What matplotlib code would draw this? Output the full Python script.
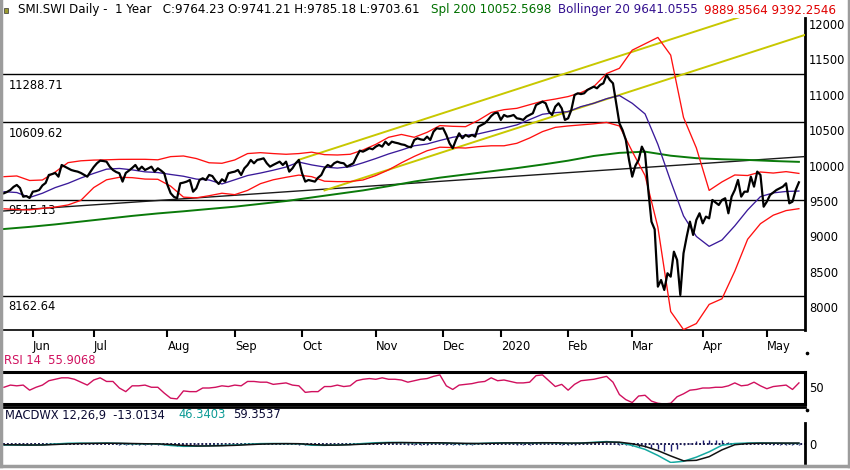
import numpy as np
import pandas as pd
import matplotlib
matplotlib.use("Agg")
import matplotlib.pyplot as plt
from matplotlib.lines import Line2D
from matplotlib.patches import Rectangle

# trading calendar (SIX holidays inside the window)
START, END = "2019-05-20", "2020-05-18"
HOLIDAYS = ["2019-05-30", "2019-06-10", "2019-08-01", "2019-12-24", "2019-12-25",
            "2019-12-26", "2019-12-31", "2020-01-01", "2020-01-02", "2020-04-10",
            "2020-04-13", "2020-05-01"]
MONTH_LABELS = ["Jun", "Jul", "Aug", "Sep", "Oct", "Nov", "Dec", "2020", "Feb", "Mar", "Apr", "May"]
PRICE_TICKS = [8000, 8500, 9000, 9500, 10000, 10500, 11000, 11500, 12000]

# daily closes
CLOSE = [
    9610, 9630, 9656, 9700, 9727, 9684, 9561, 9570, 9543, 9632,
    9640, 9656, 9720, 9755, 9868, 9880, 9896, 9844, 10009, 9985,
    9960, 9938, 9925, 9915, 9896, 9870, 9844, 9915, 9980, 10033,
    10070, 10065, 10056, 9985, 9938, 9910, 9892, 9774, 9896, 9930,
    9967, 10009, 9938, 9985, 9938, 9960, 9985, 9915, 9962, 9930,
    9892, 9727, 9610, 9560, 9539, 9750, 9760, 9774, 9797, 9632,
    9680, 9797, 9821, 9797, 9868, 9853, 9788, 9741, 9807, 9774,
    9892, 9905, 9915, 9938, 9868, 9962, 10009, 10080, 10033, 10080,
    10090, 10103, 10033, 9985, 10010, 10033, 10056, 10009, 10056, 9915,
    9962, 10033, 10080, 9892, 9774, 9797, 9785, 9774, 9830, 9868,
    9962, 10009, 9985, 10033, 10056, 10040, 10033, 9985, 10009, 10033,
    10127, 10211, 10197, 10220, 10245, 10231, 10268, 10292, 10268, 10338,
    10292, 10338, 10325, 10315, 10300, 10292, 10268, 10259, 10362, 10386,
    10370, 10362, 10409, 10362, 10479, 10527, 10520, 10527, 10433, 10315,
    10245, 10362, 10456, 10386, 10433, 10409, 10433, 10409, 10550, 10574,
    10598, 10645, 10700, 10739, 10748, 10645, 10715, 10692, 10700, 10715,
    10668, 10660, 10645, 10692, 10715, 10739, 10856, 10880, 10903, 10880,
    10762, 10715, 10833, 10880, 10809, 10645, 10668, 10786, 10997, 11021,
    11010, 11021, 11068, 11092, 11115, 11092, 11139, 11162, 11280, 11209,
    11162, 10880, 10598, 10500, 10362, 10080, 9844, 10000, 10080, 10268,
    10174, 9656, 9209, 9100, 8291, 8385, 8244, 8480, 8432, 8785,
    8668, 8173, 8762, 8997, 9209, 9021, 9233, 9327, 9185, 9280,
    9256, 9515, 9480, 9444, 9515, 9539, 9327, 9562, 9656, 9797,
    9562, 9632, 9632, 9844, 9703, 9915, 9868, 9420, 9491, 9585,
    9620, 9656, 9680, 9703, 9750, 9468, 9491, 9656, 9764,
]

# Bollinger 20, one reading every 4 sessions
BAND_STEP = 4
BB_MID = [
    9632, 9620, 9550, 9610, 9690, 9750, 9825, 9890, 9950, 9960, 9940, 9912, 9902,
    9875, 9850, 9810, 9797, 9741, 9800, 9860, 9895, 9935, 9980, 10050, 10010, 9980,
    9965, 9985, 10040, 10100, 10165, 10220, 10280, 10305, 10355, 10400, 10428, 10448,
    10490, 10530, 10575, 10650, 10725, 10748, 10762, 10833, 10880, 10945, 10990, 10880,
    10730, 10300, 9780, 9290, 9000, 8860, 8950, 9150, 9374, 9562, 9615, 9635, 9641,
]
BB_UPPER = [
    9844, 9854, 9790, 9797, 9910, 10042, 10068, 10078, 10082, 10088, 10089, 10089, 10082,
    10127, 10136, 10100, 10040, 10033, 10080, 10170, 10183, 10170, 10160, 10170, 10190,
    10155, 10150, 10160, 10221, 10300, 10400, 10440, 10400, 10470, 10565, 10555, 10550,
    10640, 10750, 10790, 10809, 10860, 10910, 10940, 10975, 11030, 11115, 11300, 11374,
    11630, 11720, 11810, 11560, 10680, 10250, 9650, 9770, 9868, 9860, 9910, 9895, 9915, 9890,
]
BB_LOWER = [
    9390, 9380, 9375, 9397, 9415, 9445, 9510, 9690, 9800, 9835, 9830, 9810, 9807,
    9710, 9555, 9545, 9575, 9610, 9590, 9650, 9745, 9800, 9835, 9866, 9844, 9780,
    9774, 9775, 9797, 9860, 9940, 10040, 10130, 10210, 10260, 10255, 10248, 10268,
    10280, 10280, 10315, 10390, 10480, 10540, 10560, 10575, 10590, 10610, 10560, 10200,
    9860, 9130, 7940, 7685, 7770, 8040, 8120, 8510, 8960, 9180, 9300, 9365, 9392,
]

# Spl 200, one reading every 8 sessions
SPL_STEP = 8
SPL_200 = [
    9105, 9135, 9170, 9210, 9250, 9290, 9325, 9355, 9388, 9420, 9460, 9500, 9550,
    9600, 9650, 9710, 9775, 9830, 9875, 9920, 9965, 10015, 10070, 10136, 10180,
    10197, 10140, 10105, 10090, 10080, 10065, 10053,
]

# RSI 14 and MACD histogram, every 2 sessions
OSC_STEP = 2
RSI_14 = [
    49, 52, 51, 52, 45, 49, 52, 58, 60, 62, 62, 60, 56, 52, 59, 62, 57, 57, 48, 43,
    51, 51, 52, 49, 49, 41, 34, 33, 44, 43, 43, 48, 48, 49, 51, 50, 52, 51, 57, 57,
    56, 56, 53, 54, 55, 52, 51, 42, 43, 43, 50, 50, 52, 50, 51, 58, 60, 61, 60, 62,
    60, 60, 59, 56, 58, 60, 61, 64, 66, 51, 46, 52, 53, 54, 56, 57, 62, 58, 59, 57,
    55, 55, 56, 65, 66, 58, 50, 53, 45, 53, 58, 59, 60, 62, 64, 56, 39, 32, 28, 37,
    38, 30, 27, 26, 27, 36, 40, 45, 46, 48, 48, 49, 49, 51, 55, 51, 52, 56, 51, 47,
    50, 51, 52, 46, 55,
]
MACD_HIST = [
    -10, -10, -10, -10, -10, -2, 5, 12, 20, 25, 25, 20, 15, 8, 2, 5, 8, 0, -5, -12,
    -10, -8, -5, -5, -5, -20, -40, -45, -35, -25, -10, 0, 10, 10, 10, 12, 15, 18, 20, 22,
    20, 15, 10, 5, 0, 0, -2, -20, -30, -20, -10, 0, 10, 10, 10, 20, 25, 28, 25, 20,
    15, 8, 2, -3, -5, -5, -5, 0, 2, -8, -13, -12, -10, -5, 0, 5, 10, 10, 8, 3,
    -1, -2, -3, 3, 7, 3, 0, -8, -13, -5, 2, 8, 15, 18, 20, 5, -15, -40, -70, -95,
    -120, -160, -200, -250, -270, -180, -30, 60, 130, 180, 200, 195, 190, 110, 50, 30,
    20, 15, 10, 5, -3, -8, -10, -12, -13,
]

# MACD 12,26,9 lines, every 4 sessions
MACD_STEP = 4
MACD = [
    -20, -25, -30, -15, 20, 50, 55, 50, 60, 45, 30, 25, 20, -40, -75, -70, -50, -40,
    -20, 10, 35, 40, 35, 30, -30, -35, -15, 0, 40, 70, 85, 80, 70, 65, 70, 45, 35, 40,
    60, 70, 65, 60, 75, 70, 45, 60, 90, 120, 80, -40, -200, -450, -740, -690, -520,
    -300, -30, 40, 60, 65, 55, 48, 46,
]
MACD_SIGNAL = [
    -10, -15, -20, -20, 0, 25, 40, 48, 52, 50, 40, 30, 25, 0, -40, -60, -60, -50,
    -35, -10, 15, 30, 35, 32, 0, -25, -25, -10, 15, 45, 70, 78, 75, 70, 68, 58, 45, 40,
    50, 62, 66, 63, 68, 70, 58, 58, 75, 100, 95, 30, -80, -250, -470, -670, -650,
    -500, -220, -10, 40, 55, 58, 58, 59,
]

# drawn objects
LEVELS = [11288.71, 10609.62, 9515.13, 8162.64]
BASE_TREND = [("2019-05-20", 9360), ("2020-05-18", 10122)]
CHANNEL_UPPER = [("2019-09-30", 10083), ("2020-04-17", 12075)]
CHANNEL_LOWER = [("2019-10-10", 9650), ("2020-05-18", 11818)]

TITLE_PARTS = [
    ("SMI.SWI Daily -  1 Year   C:9764.23 O:9741.21 H:9785.18 L:9703.61", "#000000", 18),
    ("Spl 200 10052.5698", "#007000", 431),
    ("Bollinger 20 9641.0555", "#33108f", 558),
    ("9889.8564 9392.2546", "#e00000", 704),
]

W, H = 850, 470
FS = 8.3


def fx(px):
    return px / W


def fy(py):
    return 1 - py / H


def main():
    dates = pd.bdate_range(START, END, freq="C", holidays=HOLIDAYS)
    assert len(dates) == len(CLOSE)
    n = len(CLOSE)
    idx = np.arange(n)
    xlim = (-0.3, 249.9)

    def pos(d):
        return dates.get_loc(pd.Timestamp(d))

    plt.rcParams["font.family"] = ["DejaVu Sans"]
    fig = plt.figure(figsize=(W / 100, H / 100), dpi=100)

    # ---- price panel
    ax = fig.add_axes([fx(3), fy(330), fx(802), (330 - 18.3) / H])
    ax.set_xlim(*xlim)
    ax.set_ylim(7679, 12080)

    for lvl in LEVELS:
        ax.axhline(lvl, color="black", lw=1, zorder=1)
        ax.annotate(f"{lvl:.2f}", xy=(0, lvl), xycoords=("axes fraction", "data"),
                    xytext=(4, -3), textcoords="offset points", va="top", ha="left",
                    fontsize=FS, zorder=2)

    (d0, v0), (d1, v1) = BASE_TREND
    ax.axline((pos(d0), v0), (pos(d1), v1), color="#1a1a1a", lw=1, zorder=3)

    for (d0, v0), (d1, v1) in (CHANNEL_UPPER, CHANNEL_LOWER):
        i0, i1 = pos(d0), pos(d1)
        slope = (v1 - v0) / (i1 - i0)
        ax.plot([i0, xlim[1]], [v0, v0 + slope * (xlim[1] - i0)], color="#c8c800", lw=1.4, zorder=3)

    ax.plot(np.arange(len(SPL_200)) * SPL_STEP, SPL_200, color="#0a7a0a", lw=1.4, zorder=4)

    band_x = np.arange(len(BB_MID)) * BAND_STEP
    ax.plot(band_x, BB_UPPER, color="#ff1010", lw=0.95, zorder=5)
    ax.plot(band_x, BB_LOWER, color="#ff1010", lw=0.95, zorder=5)
    ax.plot(band_x, BB_MID, color="#3a1a9a", lw=0.95, zorder=5)
    ax.plot(idx, CLOSE, color="black", lw=1.6, zorder=6)

    month_pos = [i for i in range(1, n) if dates[i].month != dates[i - 1].month]
    ax.set_xticks(month_pos)
    ax.set_xticklabels(MONTH_LABELS, ha="left", fontsize=FS)
    ax.tick_params(axis="x", direction="out", length=5, width=1.5, pad=2)

    ax.yaxis.tick_right()
    ax.set_yticks(PRICE_TICKS)
    ax.set_yticklabels([str(t) for t in PRICE_TICKS], fontsize=FS)
    ax.tick_params(axis="y", length=0, pad=3)

    for side in ("top", "left"):
        ax.spines[side].set_visible(False)
    ax.spines["right"].set_linewidth(2)
    ax.spines["bottom"].set_linewidth(1.2)

    # ---- RSI panel
    rx = fig.add_axes([fx(3), fy(404), fx(802), 32 / H])
    rx.set_xlim(*xlim)
    rx.set_ylim(26, 70)
    rx.plot(np.arange(len(RSI_14)) * OSC_STEP, RSI_14, color="#d0105e", lw=1)
    rx.set_xticks([])
    rx.yaxis.tick_right()
    rx.set_yticks([50])
    rx.set_yticklabels(["50"], fontsize=FS)
    rx.tick_params(axis="y", length=0, pad=3)
    rx.spines["left"].set_visible(False)
    for side in ("top", "bottom", "right"):
        rx.spines[side].set_linewidth(2.2)

    # ---- MACD panel
    mx = fig.add_axes([fx(3), fy(463), fx(802), (463 - 407) / H])
    mx.set_xlim(*xlim)
    mx.set_ylim(-760, 1540)
    hist_x = np.arange(len(MACD_HIST)) * OSC_STEP
    mx.vlines(hist_x, 0, MACD_HIST, color="#1a1a70", lw=1)
    mx.axhline(0, color="#1a1a50", lw=1.4, ls=(0, (1, 1)))
    mac_x = np.arange(len(MACD)) * MACD_STEP
    mx.plot(mac_x, MACD, color="#14a8a0", lw=1.1)
    mx.plot(mac_x, MACD_SIGNAL, color="#111111", lw=1.1)
    mx.set_xticks([])
    mx.yaxis.tick_right()
    mx.set_yticks([0])
    mx.set_yticklabels(["0"], fontsize=FS)
    mx.tick_params(axis="y", length=0, pad=3)
    mx.spines["left"].set_visible(False)
    mx.spines["bottom"].set_visible(False)
    mx.spines["top"].set_linewidth(2)
    mx.spines["right"].set_linewidth(2)
    mx.spines["right"].set_bounds(-760, 900)

    # ---- header texts
    for txt, col, px in TITLE_PARTS:
        fig.text(fx(px), fy(10), txt, color=col, fontsize=8.6, va="center", ha="left")
    fig.add_artist(Rectangle((fx(4), fy(12.5)), 4 / W, 5 / H, transform=fig.transFigure,
                             fc="#9a9a30", ec="#333333", lw=0.5))
    fig.text(fx(4), fy(361), "RSI 14  55.9068", color="#d0105e", fontsize=FS, va="center")
    fig.text(fx(5), fy(415), "MACDWX 12,26,9  -13.0134", color="#0a0a33", fontsize=FS, va="center")
    fig.text(fx(178), fy(415), "46.3403", color="#0a9a94", fontsize=FS, va="center")
    fig.text(fx(233), fy(415), "59.3537", color="#0a0a33", fontsize=FS, va="center")
    for py in (353, 410):
        fig.add_artist(Line2D([fx(807)], [fy(py)], marker="o", ms=1.6, color="black",
                              transform=fig.transFigure))

    # ---- window frame
    frame = [((1, 1), (0, 466)), ((848.5, 848.5), (0, 466)), ((0, 850), (466, 466))]
    for xs, ys in frame:
        fig.add_artist(Line2D([fx(x) for x in xs], [fy(y) for y in ys], color="#9c9c9c",
                              lw=2.5, transform=fig.transFigure))

    fig.savefig("out.png", dpi=100)


if __name__ == "__main__":
    main()
